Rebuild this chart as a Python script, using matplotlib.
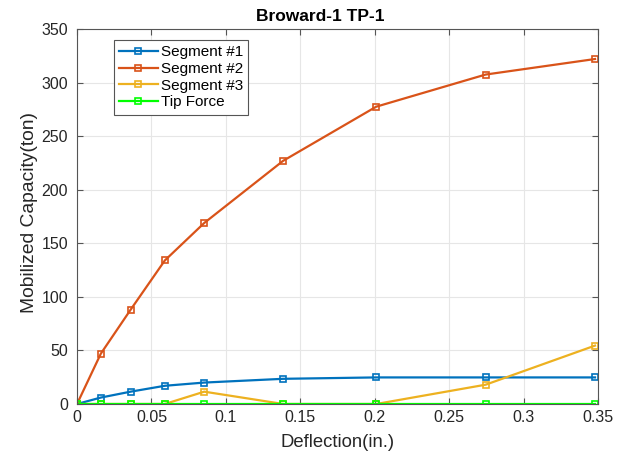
import matplotlib
matplotlib.use("Agg")
import matplotlib.pyplot as plt

plt.rcParams['font.family'] = ['Liberation Sans', 'DejaVu Sans']

# Deflection (in.) at each load step
deflection = [0, 0.016, 0.036, 0.059, 0.0855, 0.1385, 0.201, 0.2745, 0.348]

# Mobilized capacity (ton) per segment
segment_1 = [0, 6, 11.5, 17, 20, 23.5, 24.8, 24.8, 24.8]
segment_2 = [0, 47, 88, 134, 169, 227, 277.5, 307.5, 322]
segment_3 = [0, 0, 0, 0, 11.5, 0, 0, 18, 54.5]
tip_force = [0, 0, 0, 0, 0, 0, 0, 0, 0]

series = [
    ("Segment #1", segment_1, "#0072BD"),
    ("Segment #2", segment_2, "#D95319"),
    ("Segment #3", segment_3, "#EDB120"),
    ("Tip Force", tip_force, "#00FF00"),
]

fig = plt.figure(figsize=(6.35, 4.57), dpi=100)
ax = fig.add_axes([0.1213, 0.116, 0.8204, 0.8205])

for name, vals, color in series:
    ax.plot(deflection, vals, color=color, lw=1.6, marker='s', ms=4.5,
            mfc='none', mec=color, mew=1.2, label=name)

ax.set_xlim(0, 0.35)
ax.set_ylim(0, 350)
ax.set_xticks([0, 0.05, 0.1, 0.15, 0.2, 0.25, 0.3, 0.35])
ax.set_xticklabels(["0", "0.05", "0.1", "0.15", "0.2", "0.25", "0.3", "0.35"])
ax.set_yticks(range(0, 351, 50))

ax.grid(True, color='#e6e6e6', lw=0.8)
ax.set_axisbelow(True)
for sp in ax.spines.values():
    sp.set_color('#555555')
    sp.set_linewidth(0.8)
ax.tick_params(direction='in', length=4, colors='#555555', labelcolor='#262626',
               labelsize=11.5, top=True, right=True)
ax.tick_params(axis='x', pad=4.5)
ax.tick_params(axis='y', pad=6.5)

ax.set_xlabel("Deflection(in.)", fontsize=13.3, color='#262626', labelpad=6)
ax.set_ylabel("Mobilized Capacity(ton)", fontsize=13.9, color='#262626')
ax.yaxis.set_label_coords(-0.075, 0.512)
ax.set_title("Broward-1 TP-1", fontsize=12.5, fontweight='bold', pad=6)
ax.title.set_x(0.466)

leg = ax.legend(loc='upper left', bbox_to_anchor=(0.071, 0.971), fontsize=11,
                fancybox=False, framealpha=1, edgecolor='#555555',
                handlelength=2.5, borderpad=0.35, labelspacing=0.18,
                handletextpad=0.2, borderaxespad=0)
leg.get_frame().set_linewidth(0.8)

fig.savefig("out.png", dpi=100)
